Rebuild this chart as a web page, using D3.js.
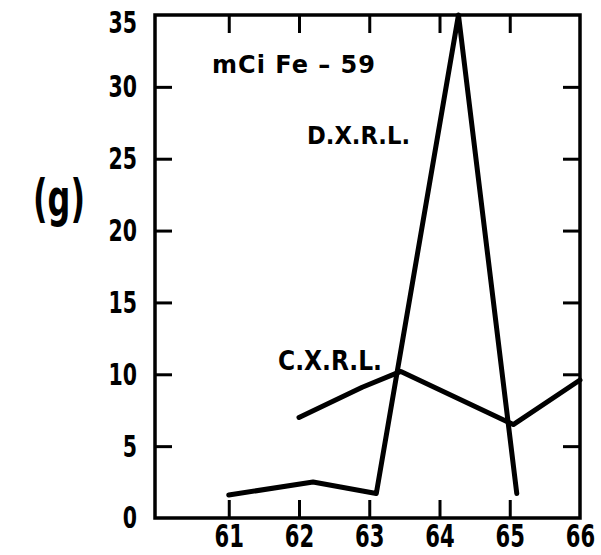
<!DOCTYPE html>
<html>
<head>
<meta charset="utf-8">
<script src="https://cdnjs.cloudflare.com/ajax/libs/d3/7.8.5/d3.min.js"></script>
<style>
  html, body { margin: 0; padding: 0; background: #fff; }
  .tick text { font-family: "DejaVu Sans", sans-serif; font-weight: bold; }
</style>
</head>
<body>
<div id="chart"></div>
<script>
// values
let dxrlYear = [61.0, 62.2, 63.1, 64.27, 65.1];
let dxrlVal  = [1.6, 2.5, 1.7, 35, 1.7];

let cxrlYear = [62.0, 62.9, 63.45, 65.05, 66.0];
let cxrlVal  = [7.0, 9.1, 10.2, 6.5, 9.6];

let yTicks = [0, 5, 10, 15, 20, 25, 30, 35];
let xTicks = [61, 62, 63, 64, 65, 66];

// the scan's digits are very narrow: shrink each tick label's width
function narrow(sel, k){
    sel.each(function(){
        let w = this.getComputedTextLength();
        d3.select(this).attr("textLength", w * k).attr("lengthAdjust", "spacingAndGlyphs");
    });
}

function main(){
    let width = 601;
    let height = 555;
    let left = 155, right = 580, top = 15, bottom = 518;

    let svg = d3.select("#chart")
        .append("svg")
        .attr("width", width)
        .attr("height", height);

    let x = d3.scaleLinear().domain([59.95, 66]).range([left, right]);
    let y = d3.scaleLinear().domain([0, 35]).range([bottom, top]);

    // axes: ticks point inward, like the original drawing
    let yLeft = svg.append("g")
        .attr("transform", `translate(${left},0)`)
        .call(d3.axisLeft(y).tickValues(yTicks).tickSizeInner(-17).tickSizeOuter(0).tickPadding(18));
    yLeft.selectAll(".tick text")
        .attr("font-size", 31).attr("fill", "#000")
        .attr("dy", d => d === 35 ? "0.58em" : "0.32em")
        .call(narrow, 0.66);
    yLeft.selectAll(".tick line").filter(d => d === 0 || d === 35).remove();

    let xBottom = svg.append("g")
        .attr("transform", `translate(0,${bottom})`)
        .call(d3.axisBottom(x).tickValues(xTicks).tickFormat(d3.format("d"))
            .tickSizeInner(-18).tickSizeOuter(0).tickPadding(6));
    xBottom.selectAll(".tick text")
        .attr("font-size", 32).attr("fill", "#000")
        .call(narrow, 0.66);
    xBottom.selectAll(".tick line").filter(d => d === 66).remove();

    svg.append("g")
        .attr("transform", `translate(${right},0)`)
        .call(d3.axisRight(y).tickValues(yTicks.slice(1, -1)).tickSizeInner(-17).tickSizeOuter(0).tickFormat(""));

    svg.append("g")
        .attr("transform", `translate(0,${top})`)
        .call(d3.axisTop(x).tickValues(xTicks.slice(0, -1)).tickSizeInner(-18).tickSizeOuter(0).tickFormat(""));

    svg.selectAll(".domain").remove();
    svg.selectAll(".tick line").attr("stroke", "#000").attr("stroke-width", 3);

    // frame
    svg.append("rect")
        .attr("x", left).attr("y", top)
        .attr("width", right - left).attr("height", bottom - top)
        .attr("fill", "none").attr("stroke", "#000").attr("stroke-width", 3.5);

    let line = d3.line()
        .x(d => x(d[0]))
        .y(d => y(d[1]));

    svg.append("path")
        .datum(d3.zip(dxrlYear, dxrlVal))
        .attr("d", line)
        .attr("fill", "none").attr("stroke", "#000")
        .attr("stroke-width", 5).attr("stroke-linejoin", "round").attr("stroke-linecap", "round");

    svg.append("path")
        .datum(d3.zip(cxrlYear, cxrlVal))
        .attr("d", line)
        .attr("fill", "none").attr("stroke", "#000")
        .attr("stroke-width", 5).attr("stroke-linejoin", "round").attr("stroke-linecap", "round");

    // labels
    let font = "'DejaVu Sans', sans-serif";
    svg.append("text").attr("x", 212).attr("y", 73).text("mCi Fe \u2013 59")
        .attr("font-family", font).attr("font-size", 24).attr("font-weight", "bold")
        .attr("textLength", 163).attr("lengthAdjust", "spacing");
    svg.append("text").attr("x", 307).attr("y", 144).text("D.X.R.L.")
        .attr("font-family", font).attr("font-size", 24).attr("font-weight", "bold")
        .attr("textLength", 103).attr("lengthAdjust", "spacingAndGlyphs");
    svg.append("text").attr("x", 278).attr("y", 370).text("C.X.R.L.")
        .attr("font-family", font).attr("font-size", 26).attr("font-weight", "bold")
        .attr("textLength", 104).attr("lengthAdjust", "spacingAndGlyphs");
    svg.append("text").attr("x", 33).attr("y", 216).text("(g)")
        .attr("font-family", font).attr("font-size", 52).attr("font-weight", "bold")
        .attr("textLength", 52).attr("lengthAdjust", "spacingAndGlyphs");
}

window.onload = () => {
    main();
}
</script>
</body>
</html>
